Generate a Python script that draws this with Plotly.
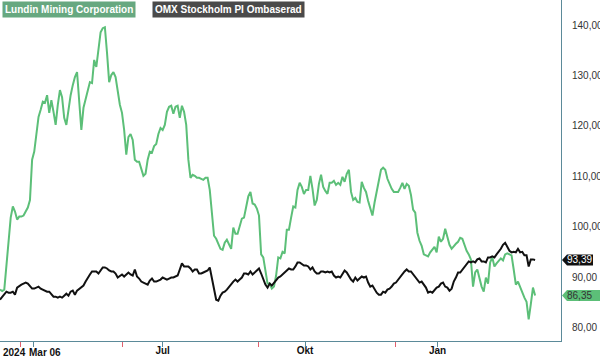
import plotly.graph_objects as go

# Trading-day index (0 = first session shown)
lundin = [
    87.5, 87.2, 87.5, 92.5, 97.4, 101.8, 104.0, 103.0, 101.4, 102.0,
    102.0, 102.2, 103.0, 103.8, 105.3, 113.3, 114.9, 118.8, 121.8, 123.2,
    124.8, 124.6, 126.1, 122.6, 125.1, 122.8, 120.2, 124.2, 127.1, 125.7,
    121.6, 120.2, 123.2, 126.1, 128.1, 129.7, 130.7, 124.2, 119.2, 123.6,
    125.5, 127.1, 128.7, 128.5, 133.1, 131.7, 135.0, 138.6, 139.4, 139.6,
    134.5, 128.7, 130.1, 130.7, 129.7, 126.7, 124.2, 122.6, 119.2, 114.3,
    117.8, 118.4, 117.2, 113.3, 112.9, 112.9, 111.7, 110.1, 110.5, 113.3,
    114.9, 114.7, 116.0, 116.4, 118.4, 119.6, 119.2, 120.2, 122.8, 123.8,
    124.0, 122.4, 123.8, 124.0, 121.6, 124.0, 122.8, 120.2, 113.3, 109.7,
    110.3, 110.1, 109.7, 109.7, 109.5, 109.3, 109.7, 109.7, 107.3, 103.0,
    98.2, 97.6, 96.4, 95.6, 95.4, 96.8, 97.4, 96.4, 95.6, 99.8,
    98.6, 98.6, 100.2, 101.6, 101.8, 103.8, 106.0, 106.9, 104.6, 104.4,
    103.6, 102.2, 94.5, 93.9, 91.1, 88.7, 88.7, 87.7, 88.1, 90.3,
    93.9, 93.7, 95.0, 94.7, 99.4, 99.4, 101.8, 104.0, 103.8, 107.3,
    108.7, 107.9, 106.5, 107.3, 107.3, 110.1, 107.5, 104.2, 105.3, 108.5,
    110.3, 107.9, 107.1, 106.5, 108.7, 108.7, 109.1, 108.3, 108.7, 108.3,
    109.9, 108.9, 110.5, 111.3, 106.9, 105.3, 105.7, 104.9, 104.8, 108.9,
    107.7, 106.9, 105.1, 103.6, 102.2, 104.8, 107.1, 109.3, 111.3, 111.7,
    111.3, 109.5, 108.5, 107.5, 106.9, 106.9, 106.9, 107.7, 108.7, 107.5,
    108.5, 108.1, 106.3, 103.4, 102.8, 98.8, 97.2, 96.2, 94.5, 94.3,
    94.1, 94.9, 95.4, 96.0, 94.9, 98.0, 97.0, 97.6, 99.6, 98.0,
    96.4, 95.6, 96.2, 96.6, 97.0, 97.8, 97.6, 96.2, 95.2, 94.5,
    93.5, 88.1, 90.9, 91.5, 89.5, 88.1, 87.1, 89.9, 88.7, 92.9,
    93.9, 92.1, 92.7, 93.1, 93.7, 93.3, 94.5, 94.7, 94.5, 94.3,
    91.5, 88.5, 89.1, 87.9, 86.9, 85.9, 85.1, 81.6, 84.6, 87.9,
    86.35,
]

omx = [
    85.5, 86.1, 86.7, 87.1, 86.9, 86.9, 87.1, 86.5, 87.9, 88.3,
    88.5, 88.7, 88.9, 88.7, 88.1, 87.7, 87.7, 87.9, 88.1, 87.7,
    87.5, 87.3, 87.1, 87.1, 86.7, 86.1, 86.1, 85.9, 86.1, 85.9,
    86.3, 86.7, 86.3, 87.1, 87.3, 86.5, 87.3, 87.7, 87.9, 88.3,
    89.1, 89.9, 90.5, 91.1, 91.1, 91.1, 90.7, 91.3, 91.9, 91.9,
    91.7, 91.3, 91.1, 91.1, 90.7, 89.9, 90.3, 90.5, 90.1, 90.5,
    90.9, 90.5, 90.3, 91.5, 90.1, 89.7, 89.1, 88.9, 88.7, 88.5,
    89.3, 89.7, 89.1, 89.1, 89.3, 89.5, 89.9, 89.7, 89.5, 89.7,
    89.9, 89.9, 90.1, 90.3, 91.5, 92.7, 92.1, 92.1, 92.1, 91.7,
    91.1, 91.5, 91.5, 90.7, 90.7, 90.9, 91.1, 91.3, 91.9, 89.5,
    87.3, 85.5, 85.3, 86.3, 86.9, 87.1, 87.5, 88.1, 88.7, 89.1,
    89.5, 89.1, 89.5, 89.9, 90.7, 90.7, 90.5, 91.1, 90.5, 90.9,
    91.5, 91.7, 90.7, 89.5, 88.5, 87.9, 88.7, 88.3, 88.9, 89.3,
    89.9, 90.1, 90.5, 90.9, 91.5, 91.7, 91.5, 91.5, 92.1, 92.9,
    92.9, 92.5, 92.3, 92.3, 92.1, 91.5, 91.9, 91.1, 90.7, 90.7,
    91.1, 91.1, 90.9, 91.1, 90.9, 91.1, 90.3, 89.9, 90.1, 89.9,
    90.5, 91.3, 90.9, 90.1, 89.5, 89.1, 89.9, 89.3, 89.7, 90.1,
    89.9, 90.1, 88.9, 88.1, 88.3, 87.5, 86.9, 86.5, 86.5, 87.1,
    86.9, 87.5, 87.7, 88.1, 88.7, 88.9, 89.5, 90.1, 90.5, 91.1,
    91.5, 91.1, 91.1, 90.5, 90.1, 89.5, 88.9, 89.1, 88.5, 87.9,
    86.9, 87.1, 86.9, 87.5, 87.9, 88.1, 88.7, 88.9, 88.1, 87.9,
    87.3, 87.7, 89.1, 89.9, 90.9, 90.9, 91.5, 92.1, 92.7, 93.1,
    92.9, 93.1, 92.9, 93.5, 93.7, 93.1, 93.1, 92.9, 93.9, 93.9,
    94.1, 93.9, 94.5, 95.0, 95.6, 96.4, 96.8, 96.0, 95.2, 94.9,
    95.0, 94.9, 95.6, 94.9, 95.0, 94.3, 94.3, 92.1, 93.5, 93.5,
    93.39,
]

days = list(range(len(lundin)))

# x-axis ticks (positions in trading-day index)
label_tick_pos = [15.7, 76, 142.5, 204.4]
label_tick_text = ["Mar 06", "Jul", "Okt", "Jan"]
red_tick_pos = [9.8, 57, 120.6, 184.6]
year_label = "2024"

y_tick_vals = [80, 90, 100, 110, 120, 130, 140]
y_tick_text = ["80,00", "90,00", "100,00", "110,00", "120,00", "130,00", "140,00"]

series_names = ["Lundin Mining Corporation", "OMX Stockholm PI Ombaserad"]
last_text = ["86,35", "93,39"]

GREEN = "#5cbf78"
GREEN_BOX = "#67a880"
BLACK = "#111111"
GRAY_BOX = "#4a4a4a"
AXIS = "#5b8a99"
RED_TICK = "#e0606e"
FONT = "Liberation Sans"
TICKFONT = dict(family=FONT, size=10, color="#111", weight="bold")

fig = go.Figure()
fig.add_trace(go.Scatter(x=days, y=lundin, mode="lines", name=series_names[0],
                         line=dict(color=GREEN, width=2), hoverinfo="skip"))
fig.add_trace(go.Scatter(x=days, y=omx, mode="lines", name=series_names[1],
                         line=dict(color=BLACK, width=2), hoverinfo="skip"))
# empty traces that attach the two tick-only overlay axes
fig.add_trace(go.Scatter(x=red_tick_pos, y=[None] * len(red_tick_pos), xaxis="x2",
                         mode="lines", showlegend=False, hoverinfo="skip"))
fig.add_trace(go.Scatter(x=label_tick_pos, y=[None] * len(label_tick_pos), xaxis="x3",
                         mode="lines", showlegend=False, hoverinfo="skip"))

xr = [0, 262.1]
tick_only = dict(range=xr, overlaying="x", anchor="y", side="bottom", automargin=False,
                 showgrid=False, zeroline=False, showline=False, showticklabels=False,
                 tickmode="array", ticks="outside", ticklen=5, tickwidth=1)
fig.update_layout(
    width=600, height=357,
    margin=dict(l=0, r=39, t=0, b=16, pad=0, autoexpand=False),
    paper_bgcolor="white", plot_bgcolor="white",
    showlegend=False,
    font=dict(family=FONT, color="#222"),
    xaxis=dict(range=xr, showgrid=False, zeroline=False, automargin=False,
               showline=True, linecolor=AXIS, linewidth=1,
               tickmode="array", tickvals=label_tick_pos[1:], ticktext=label_tick_text[1:],
               ticks="", tickfont=TICKFONT),
    xaxis2=dict(tick_only, tickvals=red_tick_pos, tickcolor=RED_TICK),
    xaxis3=dict(tick_only, tickvals=label_tick_pos, tickcolor=AXIS),
    yaxis=dict(range=[77.3, 145], side="right", showgrid=False, zeroline=False,
               automargin=False,
               showline=True, linecolor=AXIS, linewidth=1,
               tickmode="array", tickvals=y_tick_vals, ticktext=y_tick_text,
               ticks="", ticklabelstandoff=8,
               tickfont=dict(family=FONT, size=10, color="#333")),
)

# legend-like labels
fig.add_annotation(xref="paper", yref="paper", x=0.0035, y=1, xanchor="left", yanchor="top",
                   yshift=-1, text="<b>" + series_names[0] + "</b>", showarrow=False,
                   bgcolor=GREEN_BOX, borderpad=2,
                   font=dict(family=FONT, size=10, color="white"))
fig.add_annotation(xref="paper", yref="paper", x=0.271, y=1, xanchor="left", yanchor="top",
                   yshift=-1, text="<b>" + series_names[1] + "</b>", showarrow=False,
                   bgcolor=GRAY_BOX, borderpad=2,
                   font=dict(family=FONT, size=10, color="white"))

# year label and first (left-shifted) date label under the axis
fig.add_annotation(xref="paper", yref="paper", x=0.002, y=-0.035, xanchor="left", yanchor="middle",
                   text="<b>" + year_label + "</b>", showarrow=False, font=TICKFONT)
fig.add_annotation(xref="x", yref="paper", x=label_tick_pos[0], y=-0.035, xanchor="left",
                   yanchor="middle", xshift=-7, text="<b>" + label_tick_text[0] + "</b>",
                   showarrow=False, font=TICKFONT)

# last-value tags
def tag(value, text, fill, txtcol, right):
    h = 1.09
    tip, body = 1.0018, 1.0107
    path = (f"M {tip},{value} L {body},{value + h} L {right},{value + h} "
            f"L {right},{value - h} L {body},{value - h} Z")
    fig.add_shape(type="path", xref="paper", yref="y", path=path,
                  fillcolor=fill, line=dict(width=0), layer="above")
    fig.add_annotation(xref="paper", yref="y", x=(body + 1.057) / 2, y=value,
                       text=text, showarrow=False, xanchor="center", yanchor="middle",
                       font=dict(family=FONT, size=10, color=txtcol))

tag(omx[-1], last_text[1], BLACK, "white", 1.057)
tag(lundin[-1], last_text[0], GREEN, "#333", 1.075)

fig.write_html("out.html", config={"displayModeBar": False},
               post_script="document.body.style.margin='0';document.body.style.overflow='hidden';")
